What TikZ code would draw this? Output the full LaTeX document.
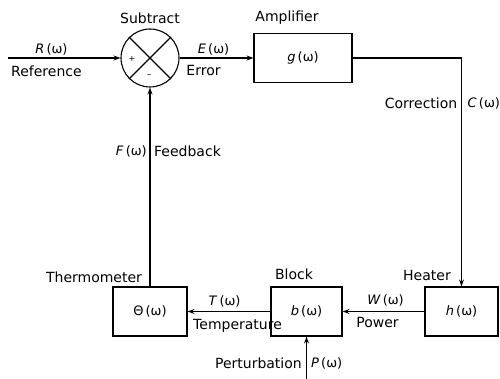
\documentclass[tikz,border=0pt]{standalone}
\usepackage{fontspec}
\setmainfont{DejaVu Sans}
\usetikzlibrary{calc,positioning,arrows.meta}

\tikzset{
    blk/.style={draw, line width=1.1pt, minimum width=#1, minimum height=49pt,
        inner sep=0pt, font=\fontsize{13}{15}\selectfont},
    lbl/.style={inner sep=0pt, font=\fontsize{14}{16}\selectfont},
    sym/.style={inner sep=0pt, font=\fontsize{13}{15}\selectfont},
    flow/.style={line width=1.1pt, -{Stealth[length=7pt,width=5pt]}}
}

\begin{document}
\begin{tikzpicture}[x=1pt,y=1pt]
        \useasboundingbox (0,0) rectangle (500,379);
        \node[
            draw,
            circle,
            line width=1.1pt,
            minimum size=58pt,
            inner sep=0pt
        ] (sub) at (150,321) {};
        \draw[line width=1.1pt]
            (sub.north west) -- (sub.south east)
            (sub.north east) -- (sub.south west);
        \node[inner sep=0pt, font=\fontsize{8}{9}\selectfont] (plus) at ($(sub.center)+(-18,-1)$) {+};
        \node[inner sep=0pt, font=\fontsize{9}{10}\selectfont] (minus) at ($(sub.center)+(-1,-18)$) {–};

        \node[blk=98pt] (amp) at (303,321) {\textit{g}\,(ω)};
        \node[blk=73pt] (heater) at (461.5,67.5) {\textit{h}\,(ω)};
        \node[blk=71pt] (block) at (306.5,67.5) {\textit{b}\,(ω)};
        \node[blk=74pt] (thermo) at (150,67.5) {Θ\,(ω)};

        \coordinate (ref) at (8,321);
        \coordinate (pert) at (306.5,0);

        % connectors
        \draw[flow] (ref) -- (sub.west);
        \draw[flow] (sub.east) -- (amp.west);
        \draw[flow] (amp.east) -- (amp.east -| heater.north) -- (heater.north);
        \draw[flow] (heater.west) -- (block.east);
        \draw[flow] (block.west) -- (thermo.east);
        \draw[flow] (thermo.north) -- (sub.south);
        \draw[flow] (pert) -- (block.south);

        % names and signals
        \node[lbl] (subtxt) at ($(sub.north)+(0,10)$) {Subtract};
        \node[sym] (rsig) at ($(sub.west)+(-69,9)$) {\textit{R}\,(ω)};
        \node[lbl] (reftxt) at ($(sub.west)+(-74,-13)$) {Reference};
        \node[sym] (esig) at ($(sub.east)+(34,9)$) {\textit{E}\,(ω)};
        \node[lbl] (errtxt) at ($(sub.east)+(24,-13)$) {Error};
        \node[lbl] (amptxt) at ($(amp.north)+(-16,15)$) {Amplifier};
        \node[lbl, anchor=east] (cortxt) at ($(amp.east -| heater.north)+(-4,-45)$) {Correction};
        \node[sym, anchor=west] (csig) at ($(amp.east -| heater.north)+(6,-45)$) {\textit{C}\,(ω)};
        \node[lbl] (heatxt) at ($(heater.north)+(-34.5,11)$) {Heater};
        \node[lbl] (blktxt) at ($(block.north)+(-12.5,12)$) {Block};
        \node[sym] (wsig) at ($(block.east)+(43,11.5)$) {\textit{W}\,(ω)};
        \node[lbl] (powtxt) at ($(block.east)+(35,-10.5)$) {Power};
        \node[lbl] (thetxt) at ($(thermo.north)+(-56,9)$) {Thermometer};
        \node[sym] (tsig) at ($(thermo.east)+(37,10.5)$) {\textit{T}\,(ω)};
        \node[lbl] (temptxt) at ($(thermo.east)+(50,-14.5)$) {Temperature};
        \node[sym, anchor=east] (fsig) at ($(thermo.north)+(-3,135)$) {\textit{F}\,(ω)};
        \node[lbl, anchor=west] (fbtxt) at ($(thermo.north)+(4,135)$) {Feedback};
        \node[lbl, anchor=east] (pertxt) at ($(block.south)+(-4.5,-27)$) {Perturbation};
        \node[sym, anchor=west] (psig) at ($(block.south)+(4.5,-27)$) {\textit{P}\,(ω)};
    \end{tikzpicture}
\end{document}
